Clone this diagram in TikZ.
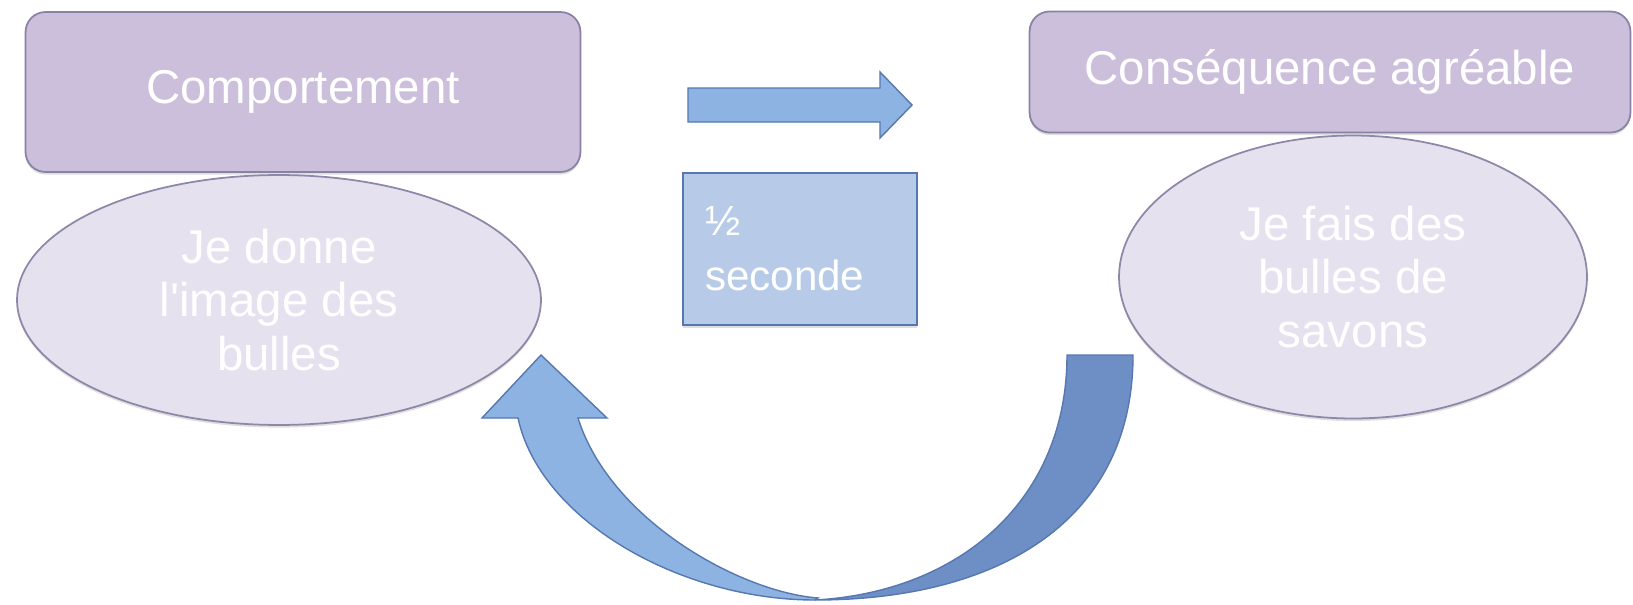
\documentclass[tikz,border=0pt]{standalone}
\usepackage{fontspec}
\setmainfont{Liberation Sans}
\usetikzlibrary{shapes.geometric,shadows}

\definecolor{violetfond}{HTML}{CBBFDC}
\definecolor{violetbord}{HTML}{8A82A6}
\definecolor{lilasfond}{HTML}{E6E1EF}
\definecolor{lilasbord}{HTML}{8E87A8}
\definecolor{bleuclair}{HTML}{8DB3E2}
\definecolor{bleufonce}{HTML}{6D8FC6}
\definecolor{bleubord}{HTML}{5677B0}
\definecolor{bleupale}{HTML}{B7CBE8}

\begin{document}
\begin{tikzpicture}[x=0.02cm, y=-0.02cm,
  ombre/.style={drop shadow={shadow xshift=0pt, shadow yshift=-1.5pt, opacity=0.25}},
  titre/.style={draw=violetbord, fill=violetfond, line width=1pt, rounded corners=0.4cm,
    ombre, text=white, font=\fontsize{27}{31}\selectfont},
  bulle/.style={ellipse, draw=lilasbord, fill=lilasfond, line width=1pt, inner sep=0pt,
    ombre, text=white, align=center, font=\fontsize{27}{30.7}\selectfont},
  fleche/.style={draw=bleubord, line width=0.8pt}]
  \useasboundingbox (0,0) rectangle (1633,605);

  % Comportement (gauche)
  \node[titre, minimum width=11.1cm, minimum height=3.2cm] (comp) at (303,92) {Comportement};
  \node[bulle, minimum width=10.48cm, minimum height=5cm] (donne) at (279,300)
    {Je donne\\l\textquotesingle image des\\bulles};

  % Consequence (droite)
  \node[titre, minimum width=12.02cm, minimum height=2.42cm] (csq) at (1330,72) {Conséquence agréable};
  \node[bulle, minimum width=9.36cm, minimum height=5.66cm] (fais) at (1353,277)
    {Je fais des\\bulles de\\savons};

  % Fleche droite + delai
  \filldraw[fleche, fill=bleuclair] (688,88) -- (880,88) -- (880,72) -- (912,105)
    -- (880,138) -- (880,122) -- (688,122) -- cycle;
  \node[draw=bleubord, fill=bleupale, line width=1pt, ombre, text=white, align=left,
    minimum width=4.68cm, minimum height=3.04cm, inner xsep=0.44cm, text width=3.8cm,
    font=\fontsize{24}{31.3}\selectfont] (delai) at (800,249) {½\\seconde};

  % Fleche courbe (retour)
  \filldraw[fleche, fill=bleufonce] (1067,355) -- (1133,355)
    .. controls (1133,520) and (1000,600) .. (815,600)
    .. controls (960,592) and (1067,500) .. (1067,355) -- cycle;
  \filldraw[fleche, fill=bleuclair] (815,600) .. controls (680,600) and (540,520) .. (518,418)
    -- (482,418) -- (541,355) -- (607,418) -- (578,418)
    .. controls (610,520) and (740,592) .. (818,598) -- cycle;
\end{tikzpicture}
\end{document}
